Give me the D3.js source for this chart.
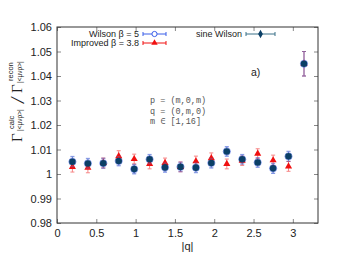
<!DOCTYPE html>
<html>
<head>
<meta charset="utf-8">
<script src="https://cdn.jsdelivr.net/npm/d3@7"></script>
<style>
  body { margin: 0; background: #fff; }
  svg { display: block; font-family: "Liberation Sans", Arial, sans-serif; }
</style>
</head>
<body>
<svg id="viz" width="360" height="254"></svg>
<script>
// |q| values for m = 1..16
const qVals = [0.196, 0.393, 0.589, 0.785, 0.982, 1.178, 1.374, 1.571,
               1.767, 1.963, 2.160, 2.356, 2.553, 2.749, 2.945, 3.142];

// Wilson beta = 5 (mostly hidden under sine Wilson)
const wilsonVals = [1.0050, 1.0043, 1.0044, 1.0053, 1.0020, 1.0060, 1.0027, 1.0029,
                    1.0026, 1.0045, 1.0092, 1.0060, 1.0047, 1.0023, 1.0072, 1.0450];
const wilsonErr = [0.0022, 0.0021, 0.0021, 0.0020, 0.0020, 0.0020, 0.0020, 0.0020,
                   0.0021, 0.0021, 0.0020, 0.0020, 0.0020, 0.0021, 0.0021, 0.0050];

// Improved beta = 3.8
const improvedVals = [1.0029, 1.0026, 1.0045, 1.0073, 1.0061, 1.0041, 1.0045, 1.0029,
                      1.0052, 1.0065, 1.0041, 1.0054, 1.0083, 1.0056, 1.0031, 1.0450];
const improvedErr = [0.0021, 0.0021, 0.0020, 0.0022, 0.0020, 0.0020, 0.0020, 0.0020,
                     0.0021, 0.0021, 0.0020, 0.0019, 0.0020, 0.0021, 0.0020, 0.0050];

// sine Wilson
const sineVals = [1.0050, 1.0043, 1.0044, 1.0053, 1.0020, 1.0060, 1.0027, 1.0029,
                  1.0026, 1.0045, 1.0092, 1.0060, 1.0047, 1.0023, 1.0072, 1.0450];
const sineErr = [0.0020, 0.0019, 0.0019, 0.0018, 0.0018, 0.0018, 0.0018, 0.0018,
                 0.0019, 0.0019, 0.0018, 0.0018, 0.0018, 0.0019, 0.0019, 0.0050];

const xTicks = [0, 0.5, 1, 1.5, 2, 2.5, 3];
const yTicks = [0.98, 0.99, 1, 1.01, 1.02, 1.03, 1.04, 1.05, 1.06];

const svg = d3.select("#viz");
const pLeft = 57, pRight = 318, pTop = 27, pBottom = 223;

const x = d3.scaleLinear().domain([0, 3.32]).range([pLeft, pRight]);
const y = d3.scaleLinear().domain([0.98, 1.06]).range([pBottom, pTop]);

const axisColor = "#333";

// axes with inside ticks
const gx = svg.append("g").attr("transform", `translate(0,${pBottom})`)
  .call(d3.axisBottom(x).tickValues(xTicks).tickFormat(d3.format("")).tickSizeInner(-4).tickSizeOuter(0).tickPadding(6));
const gy = svg.append("g").attr("transform", `translate(${pLeft},0)`)
  .call(d3.axisLeft(y).tickValues(yTicks).tickFormat(d3.format("")).tickSizeInner(-4).tickSizeOuter(0).tickPadding(5));
const gx2 = svg.append("g").attr("transform", `translate(0,${pTop})`)
  .call(d3.axisTop(x).tickValues(xTicks).tickFormat("").tickSizeInner(-4).tickSizeOuter(0));
const gy2 = svg.append("g").attr("transform", `translate(${pRight},0)`)
  .call(d3.axisRight(y).tickValues(yTicks).tickFormat("").tickSizeInner(-4).tickSizeOuter(0));

[gx, gy, gx2, gy2].forEach((g) => {
  g.select(".domain").remove();
  g.selectAll("line").attr("stroke", "#888");
  g.selectAll("text").attr("fill", "#222").style("font-size", "11px");
});

svg.append("rect")
  .attr("x", pLeft).attr("y", pTop)
  .attr("width", pRight - pLeft).attr("height", pBottom - pTop)
  .attr("fill", "none").attr("stroke", axisColor).attr("stroke-width", 1);

// error bar helper
function errorBars(vals, errs, color, opacity) {
  const g = svg.append("g").attr("stroke", color).attr("stroke-width", 1).attr("opacity", opacity);
  qVals.forEach((q, i) => {
    const cx = x(q), y0 = y(vals[i] - errs[i]), y1 = y(vals[i] + errs[i]);
    g.append("line").attr("x1", cx).attr("x2", cx).attr("y1", y0).attr("y2", y1);
    g.append("line").attr("x1", cx - 2).attr("x2", cx + 2).attr("y1", y0).attr("y2", y0);
    g.append("line").attr("x1", cx - 2).attr("x2", cx + 2).attr("y1", y1).attr("y2", y1);
  });
}

const blue = "#3b5ee8", red = "#f01010", navy = "#0b3f66";

errorBars(wilsonVals, wilsonErr, blue, 0.55);
errorBars(improvedVals, improvedErr, red, 0.5);

// Wilson open circles
svg.append("g").selectAll("circle").data(qVals).join("circle")
  .attr("cx", (d) => x(d)).attr("cy", (d, i) => y(wilsonVals[i]))
  .attr("r", 3.6).attr("fill", "none").attr("stroke", blue).attr("stroke-width", 1).attr("opacity", 0.6);

// Improved triangles
const tri = d3.symbol().type(d3.symbolTriangle).size(22);
svg.append("g").selectAll("path").data(qVals).join("path")
  .attr("d", tri)
  .attr("transform", (d, i) => `translate(${x(d)},${y(improvedVals[i])})`)
  .attr("fill", red);

errorBars(sineVals, sineErr, "#5a6fc0", 0.45);

svg.append("g").selectAll("circle").data(qVals).join("circle")
  .attr("cx", (d) => x(d)).attr("cy", (d, i) => y(sineVals[i]))
  .attr("r", 3.3).attr("fill", navy);

// legend
function legendEntry(label, lx0, lx1, ly, color, marker) {
  svg.append("text").attr("x", lx0 - 4).attr("y", ly + 3.2)
    .attr("text-anchor", "end").style("font-size", "9px").attr("fill", "#222").text(label);
  const g = svg.append("g").attr("stroke", color).attr("stroke-width", 1);
  g.append("line").attr("x1", lx0).attr("x2", lx1).attr("y1", ly).attr("y2", ly);
  g.append("line").attr("x1", lx0).attr("x2", lx0).attr("y1", ly - 2).attr("y2", ly + 2);
  g.append("line").attr("x1", lx1).attr("x2", lx1).attr("y1", ly - 2).attr("y2", ly + 2);
  const cx = (lx0 + lx1) / 2;
  if (marker === "open") {
    svg.append("circle").attr("cx", cx).attr("cy", ly).attr("r", 2.6)
      .attr("fill", "#fff").attr("stroke", color);
  } else if (marker === "tri") {
    svg.append("path").attr("d", d3.symbol().type(d3.symbolTriangle).size(18))
      .attr("transform", `translate(${cx},${ly})`).attr("fill", color);
  } else {
    svg.append("path").attr("d", d3.symbol().type(d3.symbolDiamond).size(20))
      .attr("transform", `translate(${cx},${ly})`).attr("fill", navy);
  }
}
legendEntry("Wilson \u03b2 = 5", 143, 166, 34, blue, "open");
legendEntry("Improved \u03b2 = 3.8", 143, 166, 43, red, "tri");
legendEntry("sine Wilson", 246, 275, 34, "#3a7088", "diamond");

// annotation
const notes = ["p = (m,0,m)", "q = (0,m,0)", "m \u2208 [1,16]"];
svg.append("g").selectAll("text").data(notes).join("text")
  .attr("x", 150).attr("y", (d, i) => 103 + i * 10.5)
  .style("font-family", "'Liberation Mono', 'DejaVu Sans Mono', monospace")
  .style("font-size", "8.5px").attr("fill", "#555").attr("xml:space", "preserve")
  .text((d) => d);

svg.append("text").attr("x", 251).attr("y", 76).style("font-size", "10.5px").attr("fill", "#222").text("a)");

// axis labels
svg.append("text").attr("x", (pLeft + pRight) / 2).attr("y", 250)
  .attr("text-anchor", "middle").style("font-size", "11px").attr("fill", "#222").text("|q|");

const yl = svg.append("g").attr("transform", "translate(0,142) rotate(-90)").attr("fill", "#222");
const serif = "'Liberation Serif', 'DejaVu Serif', serif";
yl.append("text").attr("x", 0).attr("y", 22).style("font-family", serif).style("font-size", "15px").text("\u0393");
yl.append("text").attr("x", 13).attr("y", 14).style("font-size", "7.5px").text("calc");
yl.append("text").attr("x", 11).attr("y", 22).style("font-size", "6.5px").text("|<\u03bc\u03bd\u03c1>|");
yl.append("text").attr("x", 39).attr("y", 24).style("font-family", serif).style("font-style", "italic").style("font-size", "19px").text("/");
yl.append("text").attr("x", 49).attr("y", 22).style("font-family", serif).style("font-size", "15px").text("\u0393");
yl.append("text").attr("x", 61).attr("y", 13).style("font-size", "7.5px").text("recon");
yl.append("text").attr("x", 59).attr("y", 22).style("font-size", "6.5px").text("|<\u03bc\u03bd\u03c1>|");
</script>
</body>
</html>
